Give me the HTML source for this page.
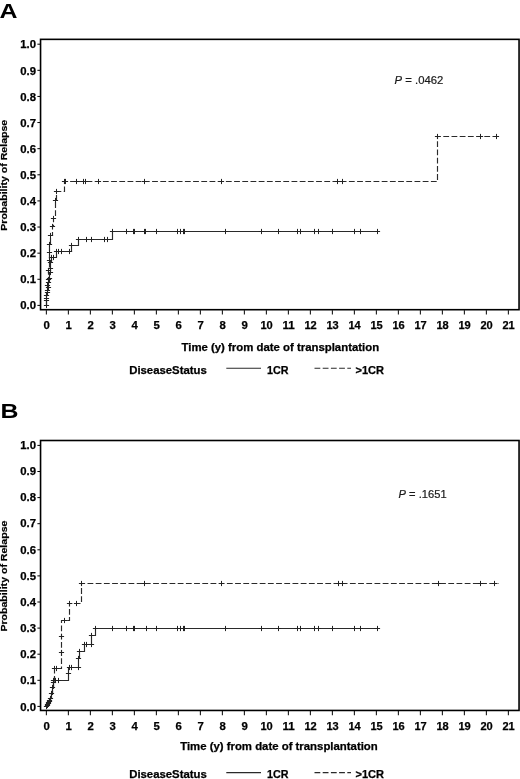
<!DOCTYPE html>
<html lang="en"><head><meta charset="utf-8"><title>Figure</title>
<style>
html,body{margin:0;padding:0;background:#fff;}
svg{display:block;}
text{font-family:"Liberation Sans",Arial,Helvetica,sans-serif;fill:#111;}
.tk{font-size:10.5px;font-weight:bold;fill:#000;stroke:#000;stroke-width:0.25;}
.tt{font-size:10.8px;font-weight:bold;fill:#000;stroke:#000;stroke-width:0.25;}
.pp{font-size:10.9px;fill:#1a1a1a;stroke:#1a1a1a;stroke-width:0.2;}
.pl{font-size:19.3px;font-weight:bold;fill:#000;}
.ln{fill:none;stroke:#2a2a2a;stroke-width:1.15;}
.ds{stroke-dasharray:5.8 2.4;}
.cr{fill:none;stroke:#222;stroke-width:1;}
</style></head><body>
<svg width="520" height="779" viewBox="0 0 520 779">
<rect x="0" y="0" width="520" height="779" fill="#fff"/>
<rect x="40.55" y="39.35" width="478.5" height="270.34999999999997" fill="none" stroke="#000" stroke-width="1.6"/>
<line x1="37.4" x2="40" y1="305.40" y2="305.40" stroke="#000" stroke-width="1"/>
<text x="36.1" y="309.45" text-anchor="end" class="tk" textLength="15.8" lengthAdjust="spacingAndGlyphs">0.0</text>
<line x1="37.4" x2="40" y1="279.28" y2="279.28" stroke="#000" stroke-width="1"/>
<text x="36.1" y="283.34" text-anchor="end" class="tk" textLength="15.8" lengthAdjust="spacingAndGlyphs">0.1</text>
<line x1="37.4" x2="40" y1="253.16" y2="253.16" stroke="#000" stroke-width="1"/>
<text x="36.1" y="257.24" text-anchor="end" class="tk" textLength="15.8" lengthAdjust="spacingAndGlyphs">0.2</text>
<line x1="37.4" x2="40" y1="227.04" y2="227.04" stroke="#000" stroke-width="1"/>
<text x="36.1" y="231.13" text-anchor="end" class="tk" textLength="15.8" lengthAdjust="spacingAndGlyphs">0.3</text>
<line x1="37.4" x2="40" y1="200.92" y2="200.92" stroke="#000" stroke-width="1"/>
<text x="36.1" y="205.03" text-anchor="end" class="tk" textLength="15.8" lengthAdjust="spacingAndGlyphs">0.4</text>
<line x1="37.4" x2="40" y1="174.80" y2="174.80" stroke="#000" stroke-width="1"/>
<text x="36.1" y="178.92" text-anchor="end" class="tk" textLength="15.8" lengthAdjust="spacingAndGlyphs">0.5</text>
<line x1="37.4" x2="40" y1="148.68" y2="148.68" stroke="#000" stroke-width="1"/>
<text x="36.1" y="152.82" text-anchor="end" class="tk" textLength="15.8" lengthAdjust="spacingAndGlyphs">0.6</text>
<line x1="37.4" x2="40" y1="122.56" y2="122.56" stroke="#000" stroke-width="1"/>
<text x="36.1" y="126.71" text-anchor="end" class="tk" textLength="15.8" lengthAdjust="spacingAndGlyphs">0.7</text>
<line x1="37.4" x2="40" y1="96.44" y2="96.44" stroke="#000" stroke-width="1"/>
<text x="36.1" y="100.61" text-anchor="end" class="tk" textLength="15.8" lengthAdjust="spacingAndGlyphs">0.8</text>
<line x1="37.4" x2="40" y1="70.32" y2="70.32" stroke="#000" stroke-width="1"/>
<text x="36.1" y="74.50" text-anchor="end" class="tk" textLength="15.8" lengthAdjust="spacingAndGlyphs">0.9</text>
<line x1="37.4" x2="40" y1="44.20" y2="44.20" stroke="#000" stroke-width="1"/>
<text x="36.1" y="48.40" text-anchor="end" class="tk" textLength="15.8" lengthAdjust="spacingAndGlyphs">1.0</text>
<line x1="46.35" x2="46.35" y1="310.2" y2="314.5" stroke="#000" stroke-width="1"/>
<text x="46.55" y="329.20" text-anchor="middle" class="tk" textLength="6.31" lengthAdjust="spacingAndGlyphs">0</text>
<line x1="68.35" x2="68.35" y1="310.2" y2="314.5" stroke="#000" stroke-width="1"/>
<text x="68.55" y="329.20" text-anchor="middle" class="tk" textLength="6.31" lengthAdjust="spacingAndGlyphs">1</text>
<line x1="90.35" x2="90.35" y1="310.2" y2="314.5" stroke="#000" stroke-width="1"/>
<text x="90.55" y="329.20" text-anchor="middle" class="tk" textLength="6.31" lengthAdjust="spacingAndGlyphs">2</text>
<line x1="112.35" x2="112.35" y1="310.2" y2="314.5" stroke="#000" stroke-width="1"/>
<text x="112.55" y="329.20" text-anchor="middle" class="tk" textLength="6.31" lengthAdjust="spacingAndGlyphs">3</text>
<line x1="134.35" x2="134.35" y1="310.2" y2="314.5" stroke="#000" stroke-width="1"/>
<text x="134.55" y="329.20" text-anchor="middle" class="tk" textLength="6.31" lengthAdjust="spacingAndGlyphs">4</text>
<line x1="156.35" x2="156.35" y1="310.2" y2="314.5" stroke="#000" stroke-width="1"/>
<text x="156.55" y="329.20" text-anchor="middle" class="tk" textLength="6.31" lengthAdjust="spacingAndGlyphs">5</text>
<line x1="178.35" x2="178.35" y1="310.2" y2="314.5" stroke="#000" stroke-width="1"/>
<text x="178.55" y="329.20" text-anchor="middle" class="tk" textLength="6.31" lengthAdjust="spacingAndGlyphs">6</text>
<line x1="200.35" x2="200.35" y1="310.2" y2="314.5" stroke="#000" stroke-width="1"/>
<text x="200.55" y="329.20" text-anchor="middle" class="tk" textLength="6.31" lengthAdjust="spacingAndGlyphs">7</text>
<line x1="222.35" x2="222.35" y1="310.2" y2="314.5" stroke="#000" stroke-width="1"/>
<text x="222.55" y="329.20" text-anchor="middle" class="tk" textLength="6.31" lengthAdjust="spacingAndGlyphs">8</text>
<line x1="244.35" x2="244.35" y1="310.2" y2="314.5" stroke="#000" stroke-width="1"/>
<text x="244.55" y="329.20" text-anchor="middle" class="tk" textLength="6.31" lengthAdjust="spacingAndGlyphs">9</text>
<line x1="266.35" x2="266.35" y1="310.2" y2="314.5" stroke="#000" stroke-width="1"/>
<text x="266.55" y="329.20" text-anchor="middle" class="tk" textLength="12.3" lengthAdjust="spacingAndGlyphs">10</text>
<line x1="288.35" x2="288.35" y1="310.2" y2="314.5" stroke="#000" stroke-width="1"/>
<text x="288.55" y="329.20" text-anchor="middle" class="tk" textLength="12.3" lengthAdjust="spacingAndGlyphs">11</text>
<line x1="310.35" x2="310.35" y1="310.2" y2="314.5" stroke="#000" stroke-width="1"/>
<text x="310.55" y="329.20" text-anchor="middle" class="tk" textLength="12.3" lengthAdjust="spacingAndGlyphs">12</text>
<line x1="332.35" x2="332.35" y1="310.2" y2="314.5" stroke="#000" stroke-width="1"/>
<text x="332.55" y="329.20" text-anchor="middle" class="tk" textLength="12.3" lengthAdjust="spacingAndGlyphs">13</text>
<line x1="354.35" x2="354.35" y1="310.2" y2="314.5" stroke="#000" stroke-width="1"/>
<text x="354.55" y="329.20" text-anchor="middle" class="tk" textLength="12.3" lengthAdjust="spacingAndGlyphs">14</text>
<line x1="376.35" x2="376.35" y1="310.2" y2="314.5" stroke="#000" stroke-width="1"/>
<text x="376.55" y="329.20" text-anchor="middle" class="tk" textLength="12.3" lengthAdjust="spacingAndGlyphs">15</text>
<line x1="398.35" x2="398.35" y1="310.2" y2="314.5" stroke="#000" stroke-width="1"/>
<text x="398.55" y="329.20" text-anchor="middle" class="tk" textLength="12.3" lengthAdjust="spacingAndGlyphs">16</text>
<line x1="420.35" x2="420.35" y1="310.2" y2="314.5" stroke="#000" stroke-width="1"/>
<text x="420.55" y="329.20" text-anchor="middle" class="tk" textLength="12.3" lengthAdjust="spacingAndGlyphs">17</text>
<line x1="442.35" x2="442.35" y1="310.2" y2="314.5" stroke="#000" stroke-width="1"/>
<text x="442.55" y="329.20" text-anchor="middle" class="tk" textLength="12.3" lengthAdjust="spacingAndGlyphs">18</text>
<line x1="464.35" x2="464.35" y1="310.2" y2="314.5" stroke="#000" stroke-width="1"/>
<text x="464.55" y="329.20" text-anchor="middle" class="tk" textLength="12.3" lengthAdjust="spacingAndGlyphs">19</text>
<line x1="486.35" x2="486.35" y1="310.2" y2="314.5" stroke="#000" stroke-width="1"/>
<text x="486.55" y="329.20" text-anchor="middle" class="tk" textLength="12.3" lengthAdjust="spacingAndGlyphs">20</text>
<line x1="508.35" x2="508.35" y1="310.2" y2="314.5" stroke="#000" stroke-width="1"/>
<text x="508.55" y="329.20" text-anchor="middle" class="tk" textLength="12.3" lengthAdjust="spacingAndGlyphs">21</text>
<text transform="translate(7.0 175.25) rotate(-90) scale(1 0.87)" text-anchor="middle" class="tt" textLength="111" lengthAdjust="spacingAndGlyphs">Probability of Relapse</text>
<text x="181.5" y="350.5" class="tt" textLength="197.6" lengthAdjust="spacingAndGlyphs">Time (y) from date of transplantation</text>
<text x="129.2" y="373.7" class="tt" textLength="77.6" lengthAdjust="spacingAndGlyphs">DiseaseStatus</text>
<line x1="226.3" x2="261" y1="368.2" y2="368.2" class="ln"/>
<text x="267" y="373.7" class="tt" textLength="21.5" lengthAdjust="spacingAndGlyphs">1CR</text>
<line x1="314.5" x2="351" y1="368.2" y2="368.2" class="ln ds"/>
<text x="355.5" y="373.7" class="tt" textLength="28.5" lengthAdjust="spacingAndGlyphs">&gt;1CR</text>
<text x="394.6" y="84.0" class="pp" textLength="48.7" lengthAdjust="spacingAndGlyphs"><tspan font-style="italic">P</tspan> = .0462</text>
<text x="0" y="18.2" class="pl" transform="translate(-0.4 0) scale(1.29 1)">A</text>
<path d="M46.5 305.5 L46.5 300.5 L46.5 300.5 L46.5 295.5 L47.5 295.5 L47.5 290.5 L48.5 290.5 L48.5 287.5 L48.5 287.5 L48.5 282.5 L49.5 282.5 L49.5 278.5 L49.5 278.5 L49.5 272.5 L50.5 272.5 L50.5 268.5 L50.5 268.5 L50.5 262.5 L51.5 262.5 L51.5 257.5 L56.5 257.5 L56.5 251.5 L71.5 251.5 L71.5 245.5 L78.5 245.5 L78.5 239.5 L112.5 239.5 L112.5 231.5 L379.5 231.5" class="ln"/>
<path d="M46.5 305.5 L46.5 298.5 L46.5 298.5 L46.5 292.5 L47.5 292.5 L47.5 285.5 L48.5 285.5 L48.5 279.5 L48.5 279.5 L48.5 270.5 L49.5 270.5 L49.5 260.5 L49.5 260.5 L49.5 252.5 L49.5 252.5 L49.5 244.5 L50.5 244.5 L50.5 235.5 L52.5 235.5 L52.5 226.5 L53.5 226.5 L53.5 218.5 L55.5 218.5 L55.5 200.5 L56.5 200.5 L56.5 191.5 L64.5 191.5 L64.5 181.5 L437.5 181.5 L437.5 136.5 L498.5 136.5" class="ln ds"/>
<path d="M46.5 302.9V308.1M43.9 305.5H49.1M46.5 297.9V303.1M43.9 300.5H49.1M46.5 292.9V298.1M43.9 295.5H49.1M47.5 287.9V293.1M44.9 290.5H50.1M48.5 284.9V290.1M45.9 287.5H51.1M48.5 279.9V285.1M45.9 282.5H51.1M49.5 275.9V281.1M46.9 278.5H52.1M50.5 269.9V275.1M47.9 272.5H53.1M50.5 265.9V271.1M47.9 268.5H53.1M50.5 259.9V265.1M47.9 262.5H53.1M51.5 254.9V260.1M48.9 257.5H54.1M53.5 254.9V260.1M50.9 257.5H56.1M56.5 248.9V254.1M53.9 251.5H59.1M58.5 248.9V254.1M55.9 251.5H61.1M61.5 248.9V254.1M58.9 251.5H64.1M69.5 248.9V254.1M66.9 251.5H72.1M71.5 242.9V248.1M68.9 245.5H74.1M78.5 236.9V242.1M75.9 239.5H81.1M86.5 236.9V242.1M83.9 239.5H89.1M91.5 236.9V242.1M88.9 239.5H94.1M104.5 236.9V242.1M101.9 239.5H107.1M107.5 236.9V242.1M104.9 239.5H110.1M112.5 228.9V234.1M109.9 231.5H115.1M126.5 228.9V234.1M123.9 231.5H129.1M133.5 228.9V234.1M130.9 231.5H136.1M134.5 228.9V234.1M131.9 231.5H137.1M144.5 228.9V234.1M141.9 231.5H147.1M145.5 228.9V234.1M142.9 231.5H148.1M156.5 228.9V234.1M153.9 231.5H159.1M177.5 228.9V234.1M174.9 231.5H180.1M180.5 228.9V234.1M177.9 231.5H183.1M183.5 228.9V234.1M180.9 231.5H186.1M184.5 228.9V234.1M181.9 231.5H187.1M225.5 228.9V234.1M222.9 231.5H228.1M261.5 228.9V234.1M258.9 231.5H264.1M278.5 228.9V234.1M275.9 231.5H281.1M297.5 228.9V234.1M294.9 231.5H300.1M300.5 228.9V234.1M297.9 231.5H303.1M314.5 228.9V234.1M311.9 231.5H317.1M318.5 228.9V234.1M315.9 231.5H321.1M332.5 228.9V234.1M329.9 231.5H335.1M354.5 228.9V234.1M351.9 231.5H357.1M360.5 228.9V234.1M357.9 231.5H363.1M377.5 228.9V234.1M374.9 231.5H380.1" class="cr"/>
<path d="M46.5 295.9V301.1M43.9 298.5H49.1M47.5 289.9V295.1M44.9 292.5H50.1M47.5 282.9V288.1M44.9 285.5H50.1M48.5 276.9V282.1M45.9 279.5H51.1M48.5 267.9V273.1M45.9 270.5H51.1M49.5 257.9V263.1M46.9 260.5H52.1M49.5 249.9V255.1M46.9 252.5H52.1M49.5 241.9V247.1M46.9 244.5H52.1M50.5 232.9V238.1M47.9 235.5H53.1M52.5 223.9V229.1M49.9 226.5H55.1M53.5 215.9V221.1M50.9 218.5H56.1M55.5 197.9V203.1M52.9 200.5H58.1M56.5 188.9V194.1M53.9 191.5H59.1M64.5 178.9V184.1M61.9 181.5H67.1M65.5 178.9V184.1M62.9 181.5H68.1M76.5 178.9V184.1M73.9 181.5H79.1M83.5 178.9V184.1M80.9 181.5H86.1M85.5 178.9V184.1M82.9 181.5H88.1M98.5 178.9V184.1M95.9 181.5H101.1M144.5 178.9V184.1M141.9 181.5H147.1M221.5 178.9V184.1M218.9 181.5H224.1M337.5 178.9V184.1M334.9 181.5H340.1M342.5 178.9V184.1M339.9 181.5H345.1M437.5 133.9V139.1M434.9 136.5H440.1M480.5 133.9V139.1M477.9 136.5H483.1M496.5 133.9V139.1M493.9 136.5H499.1" class="cr"/>
<rect x="40.55" y="440.5" width="478.5" height="269.95000000000005" fill="none" stroke="#000" stroke-width="1.6"/>
<line x1="37.4" x2="40" y1="706.40" y2="706.40" stroke="#000" stroke-width="1"/>
<text x="36.1" y="710.50" text-anchor="end" class="tk" textLength="15.8" lengthAdjust="spacingAndGlyphs">0.0</text>
<line x1="37.4" x2="40" y1="680.30" y2="680.30" stroke="#000" stroke-width="1"/>
<text x="36.1" y="684.35" text-anchor="end" class="tk" textLength="15.8" lengthAdjust="spacingAndGlyphs">0.1</text>
<line x1="37.4" x2="40" y1="654.20" y2="654.20" stroke="#000" stroke-width="1"/>
<text x="36.1" y="658.20" text-anchor="end" class="tk" textLength="15.8" lengthAdjust="spacingAndGlyphs">0.2</text>
<line x1="37.4" x2="40" y1="628.10" y2="628.10" stroke="#000" stroke-width="1"/>
<text x="36.1" y="632.05" text-anchor="end" class="tk" textLength="15.8" lengthAdjust="spacingAndGlyphs">0.3</text>
<line x1="37.4" x2="40" y1="602.00" y2="602.00" stroke="#000" stroke-width="1"/>
<text x="36.1" y="605.90" text-anchor="end" class="tk" textLength="15.8" lengthAdjust="spacingAndGlyphs">0.4</text>
<line x1="37.4" x2="40" y1="575.90" y2="575.90" stroke="#000" stroke-width="1"/>
<text x="36.1" y="579.75" text-anchor="end" class="tk" textLength="15.8" lengthAdjust="spacingAndGlyphs">0.5</text>
<line x1="37.4" x2="40" y1="549.80" y2="549.80" stroke="#000" stroke-width="1"/>
<text x="36.1" y="553.60" text-anchor="end" class="tk" textLength="15.8" lengthAdjust="spacingAndGlyphs">0.6</text>
<line x1="37.4" x2="40" y1="523.70" y2="523.70" stroke="#000" stroke-width="1"/>
<text x="36.1" y="527.45" text-anchor="end" class="tk" textLength="15.8" lengthAdjust="spacingAndGlyphs">0.7</text>
<line x1="37.4" x2="40" y1="497.60" y2="497.60" stroke="#000" stroke-width="1"/>
<text x="36.1" y="501.30" text-anchor="end" class="tk" textLength="15.8" lengthAdjust="spacingAndGlyphs">0.8</text>
<line x1="37.4" x2="40" y1="471.50" y2="471.50" stroke="#000" stroke-width="1"/>
<text x="36.1" y="475.15" text-anchor="end" class="tk" textLength="15.8" lengthAdjust="spacingAndGlyphs">0.9</text>
<line x1="37.4" x2="40" y1="445.40" y2="445.40" stroke="#000" stroke-width="1"/>
<text x="36.1" y="449.00" text-anchor="end" class="tk" textLength="15.8" lengthAdjust="spacingAndGlyphs">1.0</text>
<line x1="46.35" x2="46.35" y1="710.95" y2="715.25" stroke="#000" stroke-width="1"/>
<text x="46.55" y="729.95" text-anchor="middle" class="tk" textLength="6.31" lengthAdjust="spacingAndGlyphs">0</text>
<line x1="68.35" x2="68.35" y1="710.95" y2="715.25" stroke="#000" stroke-width="1"/>
<text x="68.55" y="729.95" text-anchor="middle" class="tk" textLength="6.31" lengthAdjust="spacingAndGlyphs">1</text>
<line x1="90.35" x2="90.35" y1="710.95" y2="715.25" stroke="#000" stroke-width="1"/>
<text x="90.55" y="729.95" text-anchor="middle" class="tk" textLength="6.31" lengthAdjust="spacingAndGlyphs">2</text>
<line x1="112.35" x2="112.35" y1="710.95" y2="715.25" stroke="#000" stroke-width="1"/>
<text x="112.55" y="729.95" text-anchor="middle" class="tk" textLength="6.31" lengthAdjust="spacingAndGlyphs">3</text>
<line x1="134.35" x2="134.35" y1="710.95" y2="715.25" stroke="#000" stroke-width="1"/>
<text x="134.55" y="729.95" text-anchor="middle" class="tk" textLength="6.31" lengthAdjust="spacingAndGlyphs">4</text>
<line x1="156.35" x2="156.35" y1="710.95" y2="715.25" stroke="#000" stroke-width="1"/>
<text x="156.55" y="729.95" text-anchor="middle" class="tk" textLength="6.31" lengthAdjust="spacingAndGlyphs">5</text>
<line x1="178.35" x2="178.35" y1="710.95" y2="715.25" stroke="#000" stroke-width="1"/>
<text x="178.55" y="729.95" text-anchor="middle" class="tk" textLength="6.31" lengthAdjust="spacingAndGlyphs">6</text>
<line x1="200.35" x2="200.35" y1="710.95" y2="715.25" stroke="#000" stroke-width="1"/>
<text x="200.55" y="729.95" text-anchor="middle" class="tk" textLength="6.31" lengthAdjust="spacingAndGlyphs">7</text>
<line x1="222.35" x2="222.35" y1="710.95" y2="715.25" stroke="#000" stroke-width="1"/>
<text x="222.55" y="729.95" text-anchor="middle" class="tk" textLength="6.31" lengthAdjust="spacingAndGlyphs">8</text>
<line x1="244.35" x2="244.35" y1="710.95" y2="715.25" stroke="#000" stroke-width="1"/>
<text x="244.55" y="729.95" text-anchor="middle" class="tk" textLength="6.31" lengthAdjust="spacingAndGlyphs">9</text>
<line x1="266.35" x2="266.35" y1="710.95" y2="715.25" stroke="#000" stroke-width="1"/>
<text x="266.55" y="729.95" text-anchor="middle" class="tk" textLength="12.3" lengthAdjust="spacingAndGlyphs">10</text>
<line x1="288.35" x2="288.35" y1="710.95" y2="715.25" stroke="#000" stroke-width="1"/>
<text x="288.55" y="729.95" text-anchor="middle" class="tk" textLength="12.3" lengthAdjust="spacingAndGlyphs">11</text>
<line x1="310.35" x2="310.35" y1="710.95" y2="715.25" stroke="#000" stroke-width="1"/>
<text x="310.55" y="729.95" text-anchor="middle" class="tk" textLength="12.3" lengthAdjust="spacingAndGlyphs">12</text>
<line x1="332.35" x2="332.35" y1="710.95" y2="715.25" stroke="#000" stroke-width="1"/>
<text x="332.55" y="729.95" text-anchor="middle" class="tk" textLength="12.3" lengthAdjust="spacingAndGlyphs">13</text>
<line x1="354.35" x2="354.35" y1="710.95" y2="715.25" stroke="#000" stroke-width="1"/>
<text x="354.55" y="729.95" text-anchor="middle" class="tk" textLength="12.3" lengthAdjust="spacingAndGlyphs">14</text>
<line x1="376.35" x2="376.35" y1="710.95" y2="715.25" stroke="#000" stroke-width="1"/>
<text x="376.55" y="729.95" text-anchor="middle" class="tk" textLength="12.3" lengthAdjust="spacingAndGlyphs">15</text>
<line x1="398.35" x2="398.35" y1="710.95" y2="715.25" stroke="#000" stroke-width="1"/>
<text x="398.55" y="729.95" text-anchor="middle" class="tk" textLength="12.3" lengthAdjust="spacingAndGlyphs">16</text>
<line x1="420.35" x2="420.35" y1="710.95" y2="715.25" stroke="#000" stroke-width="1"/>
<text x="420.55" y="729.95" text-anchor="middle" class="tk" textLength="12.3" lengthAdjust="spacingAndGlyphs">17</text>
<line x1="442.35" x2="442.35" y1="710.95" y2="715.25" stroke="#000" stroke-width="1"/>
<text x="442.55" y="729.95" text-anchor="middle" class="tk" textLength="12.3" lengthAdjust="spacingAndGlyphs">18</text>
<line x1="464.35" x2="464.35" y1="710.95" y2="715.25" stroke="#000" stroke-width="1"/>
<text x="464.55" y="729.95" text-anchor="middle" class="tk" textLength="12.3" lengthAdjust="spacingAndGlyphs">19</text>
<line x1="486.35" x2="486.35" y1="710.95" y2="715.25" stroke="#000" stroke-width="1"/>
<text x="486.55" y="729.95" text-anchor="middle" class="tk" textLength="12.3" lengthAdjust="spacingAndGlyphs">20</text>
<line x1="508.35" x2="508.35" y1="710.95" y2="715.25" stroke="#000" stroke-width="1"/>
<text x="508.55" y="729.95" text-anchor="middle" class="tk" textLength="12.3" lengthAdjust="spacingAndGlyphs">21</text>
<text transform="translate(7.0 576.10) rotate(-90) scale(1 0.87)" text-anchor="middle" class="tt" textLength="111" lengthAdjust="spacingAndGlyphs">Probability of Relapse</text>
<text x="180.15" y="750.1" class="tt" textLength="197.6" lengthAdjust="spacingAndGlyphs">Time (y) from date of transplantation</text>
<text x="129.2" y="778.2" class="tt" textLength="77.6" lengthAdjust="spacingAndGlyphs">DiseaseStatus</text>
<line x1="226.3" x2="261" y1="772.6" y2="772.6" class="ln"/>
<text x="267" y="778.2" class="tt" textLength="21.5" lengthAdjust="spacingAndGlyphs">1CR</text>
<line x1="314.5" x2="351" y1="772.6" y2="772.6" class="ln ds"/>
<text x="355.5" y="778.2" class="tt" textLength="28.5" lengthAdjust="spacingAndGlyphs">&gt;1CR</text>
<text x="398.6" y="498.2" class="pp" textLength="48.0" lengthAdjust="spacingAndGlyphs"><tspan font-style="italic">P</tspan> = .1651</text>
<text x="0" y="418.2" class="pl" transform="translate(0.6 0) scale(1.29 1)">B</text>
<path d="M46.5 706.5 L47.5 706.5 L47.5 704.5 L48.5 704.5 L48.5 702.5 L49.5 702.5 L49.5 700.5 L50.5 700.5 L50.5 698.5 L51.5 698.5 L51.5 693.5 L52.5 693.5 L52.5 687.5 L53.5 687.5 L53.5 680.5 L68.5 680.5 L68.5 667.5 L78.5 667.5 L78.5 658.5 L79.5 658.5 L79.5 651.5 L84.5 651.5 L84.5 644.5 L91.5 644.5 L91.5 635.5 L95.5 635.5 L95.5 628.5 L379.5 628.5" class="ln"/>
<path d="M46.5 706.5 L47.5 706.5 L47.5 705.5 L48.5 705.5 L48.5 703.5 L49.5 703.5 L49.5 701.5 L50.5 701.5 L50.5 698.5 L51.5 698.5 L51.5 694.5 L52.5 694.5 L52.5 688.5 L53.5 688.5 L53.5 682.5 L54.5 682.5 L54.5 668.5 L61.5 668.5 L61.5 620.5 L69.5 620.5 L69.5 603.5 L81.5 603.5 L81.5 583.5 L498.5 583.5" class="ln ds"/>
<path d="M46.5 703.9V709.1M43.9 706.5H49.1M47.5 701.9V707.1M44.9 704.5H50.1M48.5 699.9V705.1M45.9 702.5H51.1M49.5 697.9V703.1M46.9 700.5H52.1M51.5 690.9V696.1M48.9 693.5H54.1M52.5 684.9V690.1M49.9 687.5H55.1M53.5 677.9V683.1M50.9 680.5H56.1M55.5 677.9V683.1M52.9 680.5H58.1M58.5 677.9V683.1M55.9 680.5H61.1M68.5 670.9V676.1M65.9 673.5H71.1M69.5 664.9V670.1M66.9 667.5H72.1M71.5 664.9V670.1M68.9 667.5H74.1M78.5 664.9V670.1M75.9 667.5H81.1M78.5 655.9V661.1M75.9 658.5H81.1M79.5 648.9V654.1M76.9 651.5H82.1M84.5 641.9V647.1M81.9 644.5H87.1M86.5 641.9V647.1M83.9 644.5H89.1M91.5 641.9V647.1M88.9 644.5H94.1M91.5 632.9V638.1M88.9 635.5H94.1M95.5 625.9V631.1M92.9 628.5H98.1M112.5 625.9V631.1M109.9 628.5H115.1M126.5 625.9V631.1M123.9 628.5H129.1M133.5 625.9V631.1M130.9 628.5H136.1M134.5 625.9V631.1M131.9 628.5H137.1M146.5 625.9V631.1M143.9 628.5H149.1M156.5 625.9V631.1M153.9 628.5H159.1M177.5 625.9V631.1M174.9 628.5H180.1M180.5 625.9V631.1M177.9 628.5H183.1M183.5 625.9V631.1M180.9 628.5H186.1M184.5 625.9V631.1M181.9 628.5H187.1M225.5 625.9V631.1M222.9 628.5H228.1M261.5 625.9V631.1M258.9 628.5H264.1M278.5 625.9V631.1M275.9 628.5H281.1M297.5 625.9V631.1M294.9 628.5H300.1M300.5 625.9V631.1M297.9 628.5H303.1M314.5 625.9V631.1M311.9 628.5H317.1M318.5 625.9V631.1M315.9 628.5H321.1M332.5 625.9V631.1M329.9 628.5H335.1M354.5 625.9V631.1M351.9 628.5H357.1M360.5 625.9V631.1M357.9 628.5H363.1M377.5 625.9V631.1M374.9 628.5H380.1" class="cr"/>
<path d="M47.5 702.9V708.1M44.9 705.5H50.1M48.5 700.9V706.1M45.9 703.5H51.1M49.5 698.9V704.1M46.9 701.5H52.1M50.5 695.9V701.1M47.9 698.5H53.1M53.5 679.9V685.1M50.9 682.5H56.1M54.5 665.9V671.1M51.9 668.5H57.1M56.5 665.9V671.1M53.9 668.5H59.1M61.5 649.9V655.1M58.9 652.5H64.1M61.5 633.9V639.1M58.9 636.5H64.1M64.5 617.9V623.1M61.9 620.5H67.1M69.5 600.9V606.1M66.9 603.5H72.1M76.5 600.9V606.1M73.9 603.5H79.1M81.5 580.9V586.1M78.9 583.5H84.1M144.5 580.9V586.1M141.9 583.5H147.1M221.5 580.9V586.1M218.9 583.5H224.1M338.5 580.9V586.1M335.9 583.5H341.1M342.5 580.9V586.1M339.9 583.5H345.1M438.5 580.9V586.1M435.9 583.5H441.1M480.5 580.9V586.1M477.9 583.5H483.1M494.5 580.9V586.1M491.9 583.5H497.1" class="cr"/>
</svg>
</body></html>
